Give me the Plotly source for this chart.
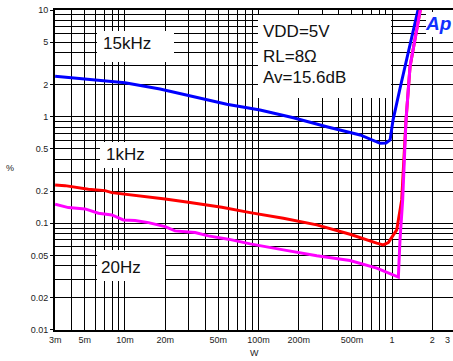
import math
import plotly.graph_objects as go

# ---- data ----
w_15k = [0.003, 0.0100, 0.0183, 0.0325, 0.0578, 0.1026, 0.1824, 0.324, 0.576, 0.813, 0.900, 0.966, 1.016, 1.147, 1.25, 1.563, 1.60]
thd_15k = [2.40, 2.08, 1.82, 1.54, 1.31, 1.156, 0.979, 0.806, 0.674, 0.563, 0.567, 0.605, 0.93, 1.85, 2.94, 10.0, 11.4]

w_1k = [0.003, 0.00356, 0.00532, 0.0071, 0.00797, 0.0126, 0.0200, 0.0298, 0.0531, 0.0865, 0.1534, 0.273, 0.484, 0.767, 0.859, 0.937, 1.083, 1.180, 1.271, 1.362, 1.618, 1.65]
thd_1k = [0.229, 0.2256, 0.2087, 0.2025, 0.1940, 0.1818, 0.1693, 0.1577, 0.1416, 0.1260, 0.1116, 0.0966, 0.0790, 0.0651, 0.0627, 0.0659, 0.0867, 0.1657, 0.931, 2.94, 10.0, 11.1]

w_20 = [0.003, 0.00377, 0.00503, 0.00633, 0.00797, 0.00973, 0.0119, 0.0150, 0.0200, 0.0237, 0.0335, 0.0421, 0.0594, 0.0865, 0.1534, 0.273, 0.484, 0.767, 1.114, 1.146, 1.20, 1.271, 1.362, 1.618, 1.65]
thd_20 = [0.151, 0.1403, 0.1365, 0.1244, 0.1199, 0.1076, 0.1060, 0.1015, 0.0931, 0.0849, 0.0818, 0.0762, 0.0710, 0.0641, 0.0563, 0.0495, 0.0447, 0.0380, 0.0313, 0.0699, 0.166, 0.931, 2.94, 10.0, 11.1]

x_tick_vals = [0.003, 0.005, 0.01, 0.02, 0.05, 0.1, 0.2, 0.5, 1, 2]
x_tick_text = ['3m', '5m', '10m', '20m', '50m', '100m', '200m', '500m', '1', '2']
y_tick_vals = [0.01, 0.02, 0.05, 0.1, 0.2, 0.5, 1, 2, 5, 10]
y_tick_text = ['0.01', '0.02', '0.05', '0.1', '0.2', '0.5', '1', '2', '5', '10']

x_grid = [m * d for d in (0.001, 0.01, 0.1) for m in range(1, 10) if m * d >= 0.003] + [1, 2]
y_grid = [m * d for d in (0.01, 0.1, 1) for m in range(1, 10)] + [10]

FONT = "Arial, Liberation Sans, sans-serif"

fig = go.Figure()
for xs, ys, col in ((w_15k, thd_15k, '#0000ff'), (w_1k, thd_1k, '#ff0000'), (w_20, thd_20, '#ff00ff')):
    fig.add_trace(go.Scatter(x=xs, y=ys, mode='lines', line=dict(color=col, width=3), showlegend=False, hoverinfo='skip'))

L, T, R, B = 55, 10, 453, 330
def px(x):
    return (x - L) / (R - L)
def py(y):
    return (B - y) / (B - T)

boxes = [(97, 31, 174, 62), (100, 142, 160, 168), (97, 250, 165, 281), (258, 15, 391, 98), (426, 12, 453, 37)]
shapes = [dict(type='rect', xref='paper', yref='paper', x0=px(a), x1=px(c), y0=py(d), y1=py(b),
               fillcolor='white', line=dict(width=0), layer='above') for a, b, c, d in boxes]

labels = [("15kHz", 101, 44), ("1kHz", 104, 154), ("20Hz", 99, 267),
          ("VDD=5V", 261, 31), ("RL=8\u03a9", 261, 56), ("Av=15.6dB", 261, 77.5)]
annotations = [dict(text=t, x=px(x), y=py(y), xref='paper', yref='paper', xanchor='left', yanchor='middle',
                    showarrow=False, font=dict(family=FONT, size=17, color='#111')) for t, x, y in labels]
annotations.append(dict(text="<b><i>Ap</i></b>", x=px(452), y=py(23), xref='paper', yref='paper', xanchor='right',
                        yanchor='middle', showarrow=False, borderpad=0,
                        font=dict(family=FONT, size=19, color='#1030ff')))
annotations.append(dict(text="3", x=px(451), y=py(340), xref='paper', yref='paper', xanchor='right',
                        yanchor='middle', showarrow=False, borderpad=0, font=dict(family=FONT, size=9, color='#222')))
annotations.append(dict(text="%", x=px(10), y=py(168), xref='paper', yref='paper', xanchor='center',
                        yanchor='middle', showarrow=False, font=dict(family=FONT, size=9, color='#222')))
annotations.append(dict(text="W", x=px(255), y=py(353), xref='paper', yref='paper', xanchor='center',
                        yanchor='middle', showarrow=False, font=dict(family=FONT, size=9, color='#222')))

fig.update_layout(
    width=453, height=361,
    margin=dict(l=L, r=453 - R, t=T, b=361 - B, pad=0),
    paper_bgcolor='white', plot_bgcolor='white',
    shapes=shapes, annotations=annotations,
    xaxis=dict(type='log', range=[math.log10(0.003) - 0.001, 0.456],
               tickmode='array', tickvals=x_tick_vals, ticktext=x_tick_text,
               ticks='', ticklen=0,
               tickfont=dict(family=FONT, size=9, color='#222'),
               showgrid=True, gridcolor='black', gridwidth=1,
               minor=dict(tickmode='array', tickvals=x_grid, showgrid=True, gridcolor='black', gridwidth=1, ticks=''),
               showline=True, linecolor='black', linewidth=2, mirror=True, zeroline=False),
    yaxis=dict(type='log', range=[-2.001, 1.001],
               tickmode='array', tickvals=y_tick_vals, ticktext=y_tick_text,
               ticks='outside', ticklen=3, tickcolor='black',
               tickfont=dict(family=FONT, size=9, color='#222'),
               showgrid=True, gridcolor='black', gridwidth=1,
               minor=dict(tickmode='array', tickvals=y_grid, showgrid=True, gridcolor='black', gridwidth=1, ticks=''),
               showline=True, linecolor='black', linewidth=2, zeroline=False),
)

fig.write_html("out.html")
